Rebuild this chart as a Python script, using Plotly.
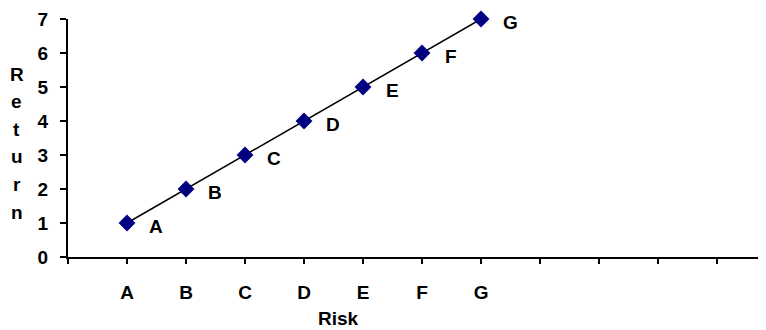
import plotly.graph_objects as go

categories = ["A", "B", "C", "D", "E", "F", "G"]
risk = [1, 2, 3, 4, 5, 6, 7]
returns = [1, 2, 3, 4, 5, 6, 7]
x_tick_positions = list(range(0, 13))
y_title = "Return"
x_title = "Risk"

FONT = "Arial, Liberation Sans, sans-serif"
FS = 19
OFF = 8  # page body margin
W, H = 766 - OFF, 330 - OFF
L, R, T = 68 - OFF, 0, 19 - OFF
B = H - (257 - OFF)
PW, PH = W - L - R, H - T - B

def bold(size=FS):
    return dict(family=FONT, size=size, color="black", weight="bold")

def px_to_paper(xp, yp):
    return ((xp - OFF - L) / PW, (T + PH - (yp - OFF)) / PH)

fig = go.Figure()
fig.add_trace(go.Scatter(
    x=risk, y=returns, mode="lines+markers",
    line=dict(color="black", width=1.5),
    marker=dict(symbol="diamond", size=13, color="#000080"),
    hoverinfo="skip", showlegend=False, cliponaxis=False,
))

# point labels
for xv, yv, lab in zip(risk, returns, categories):
    fig.add_annotation(x=xv, y=yv, text=lab, showarrow=False, xshift=29, yshift=-3,
                       font=bold())

ticktext = [categories[v - 1] if 1 <= v <= len(categories) else "" for v in x_tick_positions]

fig.update_xaxes(
    range=[0, 11.83], tickmode="array", tickvals=x_tick_positions, ticktext=ticktext,
    showline=True, linecolor="black", linewidth=2, ticks="outside", ticklen=5,
    tickwidth=2, tickcolor="black", showgrid=False, zeroline=False,
    tickfont=bold(), ticklabelstandoff=12, automargin=False,
)
fig.update_yaxes(
    range=[0, 7], dtick=1, showline=True, linecolor="black", linewidth=2,
    ticks="outside", ticklen=6, tickwidth=2, tickcolor="black", showgrid=False,
    zeroline=False, tickfont=bold(), ticklabelstandoff=8, automargin=False,
)

# x axis title
xa, ya = px_to_paper(338, 318)
fig.add_annotation(x=xa, y=ya, xref="paper", yref="paper",
                   text=x_title, showarrow=False, xanchor="center", yanchor="middle",
                   font=bold())

# vertical stacked y title
for i, ch in enumerate(y_title):
    xa, ya = px_to_paper(17, 74 + i * 27.6)
    fig.add_annotation(x=xa, y=ya, xref="paper", yref="paper",
                       text=ch, showarrow=False, xanchor="center", yanchor="middle",
                       font=bold())

fig.update_layout(
    width=W, height=H, margin=dict(l=L, r=R, t=T, b=B, autoexpand=False),
    paper_bgcolor="white", plot_bgcolor="white",
)
fig.write_html("out.html")
